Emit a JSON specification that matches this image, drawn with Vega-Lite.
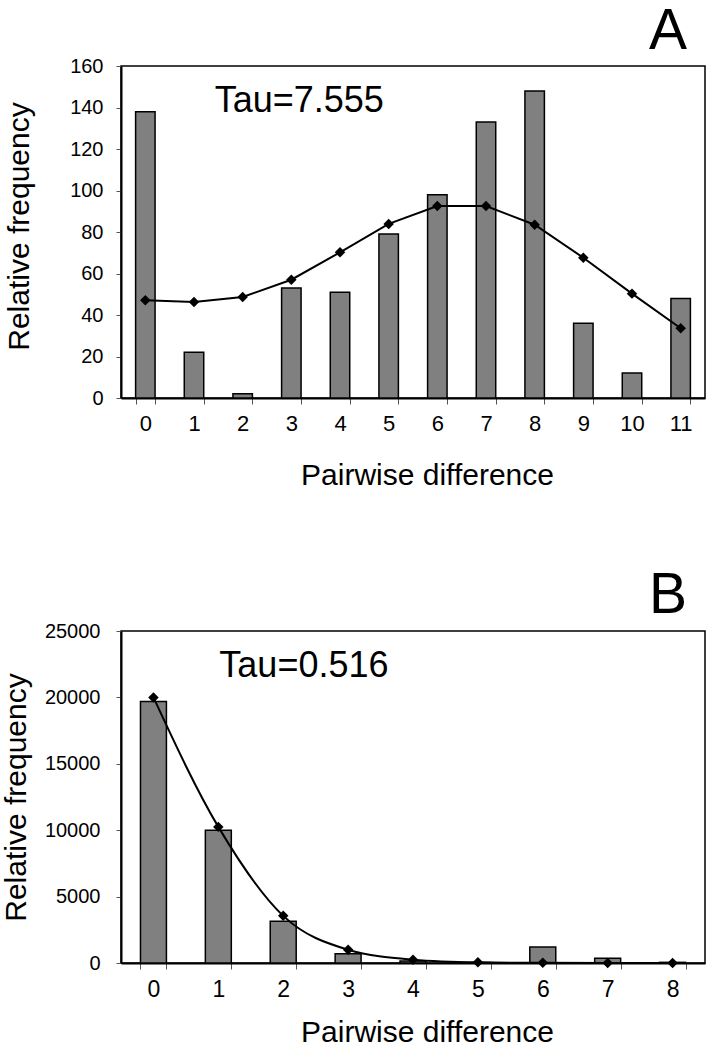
{
  "$schema": "https://vega.github.io/schema/vega-lite/v6.json",
  "padding": {"left": 0, "top": 2, "right": 2, "bottom": 0},
  "background": "white",
  "config": {
    "font": "Liberation Sans",
    "view": {"stroke": "black", "strokeWidth": 1.5},
    "axis": {"grid": false, "domainColor": "black", "domainWidth": 2, "tickColor": "#555", "tickWidth": 1, "labelColor": "black", "titleColor": "black", "titleFontWeight": "normal", "labelFont": "Liberation Sans", "titleFont": "Liberation Sans"},
    "title": {"fontSize": 57, "fontWeight": "normal", "anchor": "end", "color": "black", "font": "Liberation Sans"}
  },
  "datasets": {
    "a": [
      {"d": 0, "observed": 138, "expected": 47.1},
      {"d": 1, "observed": 22, "expected": 46.3},
      {"d": 2, "observed": 2, "expected": 48.7},
      {"d": 3, "observed": 53, "expected": 57},
      {"d": 4, "observed": 51, "expected": 70.2},
      {"d": 5, "observed": 79, "expected": 83.9},
      {"d": 6, "observed": 98, "expected": 92.5},
      {"d": 7, "observed": 133, "expected": 92.5},
      {"d": 8, "observed": 148, "expected": 83.5},
      {"d": 9, "observed": 36, "expected": 67.6},
      {"d": 10, "observed": 12, "expected": 50.3},
      {"d": 11, "observed": 48, "expected": 33.6}
    ],
    "b": [
      {"d": 0, "observed": 19700, "expected": 20000},
      {"d": 1, "observed": 10000, "expected": 10250},
      {"d": 2, "observed": 3150, "expected": 3550},
      {"d": 3, "observed": 700, "expected": 1000},
      {"d": 4, "observed": 150, "expected": 250},
      {"d": 5, "observed": 30, "expected": 50},
      {"d": 6, "observed": 1200, "expected": 10},
      {"d": 7, "observed": 350, "expected": 2},
      {"d": 8, "observed": 50, "expected": 0}
    ]
  },
  "spacing": 75,
  "vconcat": [
    {
      "title": {"text": "A", "offset": -5, "dx": -18},
      "width": 584,
      "height": 332,
      "data": {"name": "a"},
      "layer": [
        {
          "mark": {"type": "bar", "fill": "#808080", "stroke": "black", "strokeWidth": 1.5},
          "encoding": {
            "x": {"field": "d", "type": "ordinal", "scale": {"paddingInner": 0.6, "paddingOuter": 0.3},
              "axis": {"title": "Pairwise difference", "labelAngle": 0, "tickBand": "extent", "tickSize": 6, "labelFontSize": 22, "labelPadding": 9, "titleFontSize": 30, "titlePadding": 26, "titleX": 306}},
            "y": {"field": "observed", "type": "quantitative", "scale": {"domain": [0, 160], "nice": false},
              "axis": {"title": "Relative frequency", "values": [0, 20, 40, 60, 80, 100, 120, 140, 160], "tickSize": 5, "labelFontSize": 20, "labelPadding": 13, "titleFontSize": 30, "titlePadding": 35, "titleY": 160}}
          }
        },
        {
          "mark": {"type": "line", "color": "black", "strokeWidth": 2, "point": {"shape": "diamond", "size": 110, "filled": true, "color": "black"}},
          "encoding": {
            "x": {"field": "d", "type": "ordinal"},
            "y": {"field": "expected", "type": "quantitative"}
          }
        },
        {
          "data": {"values": [{"d": 2, "y": 138, "label": "Tau=7.555"}]},
          "mark": {"type": "text", "fontSize": 36, "align": "left", "baseline": "alphabetic", "dx": -28, "font": "Liberation Sans", "color": "black"},
          "encoding": {
            "x": {"field": "d", "type": "ordinal"},
            "y": {"field": "y", "type": "quantitative"},
            "text": {"field": "label"}
          }
        }
      ]
    },
    {
      "title": {"text": "B", "offset": -4, "dx": -18},
      "width": 584,
      "height": 332,
      "data": {"name": "b"},
      "layer": [
        {
          "mark": {"type": "bar", "fill": "#808080", "stroke": "black", "strokeWidth": 1.5},
          "encoding": {
            "x": {"field": "d", "type": "ordinal", "scale": {"paddingInner": 0.6, "paddingOuter": 0.3},
              "axis": {"title": "Pairwise difference", "labelAngle": 0, "tickBand": "extent", "tickSize": 6, "labelFontSize": 23, "labelPadding": 9, "titleFontSize": 30, "titlePadding": 16, "titleX": 306}},
            "y": {"field": "observed", "type": "quantitative", "scale": {"domain": [0, 25000], "nice": false},
              "axis": {"title": "Relative frequency", "values": [0, 5000, 10000, 15000, 20000, 25000], "format": "d", "tickSize": 5, "labelFontSize": 20, "labelPadding": 16, "titleFontSize": 30, "titlePadding": 13}}
          }
        },
        {
          "mark": {"type": "line", "color": "black", "strokeWidth": 2, "interpolate": "monotone", "point": {"shape": "diamond", "size": 110, "filled": true, "color": "black"}},
          "encoding": {
            "x": {"field": "d", "type": "ordinal"},
            "y": {"field": "expected", "type": "quantitative"}
          }
        },
        {
          "data": {"values": [{"d": 1, "y": 21500, "label": "Tau=0.516"}]},
          "mark": {"type": "text", "fontSize": 36, "align": "left", "baseline": "alphabetic", "dx": 1, "font": "Liberation Sans", "color": "black"},
          "encoding": {
            "x": {"field": "d", "type": "ordinal"},
            "y": {"field": "y", "type": "quantitative"},
            "text": {"field": "label"}
          }
        }
      ]
    }
  ]
}
